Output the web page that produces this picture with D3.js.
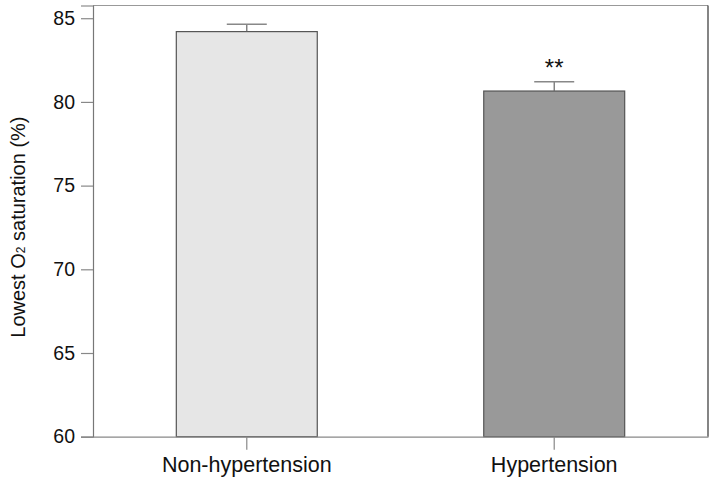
<!DOCTYPE html>
<html><head><meta charset="utf-8">
<script src="https://cdn.jsdelivr.net/npm/d3@7"></script>
<style>
body{margin:0;background:#fff;}
text{font-family:'Liberation Sans',Arial,sans-serif;fill:#111;}
</style></head><body>
<svg id="c" width="714" height="486"></svg>
<script>
const categories = ["Non-hypertension", "Hypertension"];
const means = [84.2, 80.65];
const errUpper = [84.64, 81.2];
const significance = ["", "**"];
const yTicks = [60, 65, 70, 75, 80, 85];
const fills = ["#e6e6e6", "#999999"];

const svg = d3.select("#c");
const L = 93, R = 708, T = 5.5, B = 436.7;
const y = d3.scaleLinear().domain([60, 85.76]).range([B, T]);
const x = d3.scaleBand().domain(categories).range([L, R]).paddingInner(0.5415).paddingOuter(0.271);

// bars
svg.selectAll("rect.bar").data(categories).join("rect")
  .attr("class","bar")
  .attr("x", d => x(d)).attr("width", x.bandwidth())
  .attr("y", (d,i) => y(means[i])).attr("height", (d,i) => y(60) - y(means[i]))
  .attr("fill", (d,i) => fills[i]).attr("stroke", "#555").attr("stroke-width", 1.2);

// error bars
categories.forEach((c,i) => {
  const cx = x(c) + x.bandwidth()/2;
  svg.append("line").attr("x1",cx).attr("x2",cx).attr("y1",y(means[i])).attr("y2",y(errUpper[i])).attr("stroke","#666").attr("stroke-width",1.2);
  svg.append("line").attr("x1",cx-20).attr("x2",cx+20).attr("y1",y(errUpper[i])).attr("y2",y(errUpper[i])).attr("stroke","#888").attr("stroke-width",1.5);
  if (significance[i]) {
    svg.append("text").attr("x",cx).attr("y",y(errUpper[i]) - 6).attr("text-anchor","middle")
      .attr("font-size",24).text(significance[i]);
  }
});

// frame
svg.append("line").attr("x1",L).attr("x2",R).attr("y1",T).attr("y2",T).attr("stroke","#999").attr("stroke-width",1.2);
svg.append("line").attr("x1",R).attr("x2",R).attr("y1",T).attr("y2",B).attr("stroke","#333").attr("stroke-width",1.2);

// axes
const yAxis = d3.axisLeft(y).tickValues(yTicks).tickSize(12).tickPadding(6);
const gy = svg.append("g").attr("transform",`translate(${L},0)`).call(yAxis);
gy.select(".domain").attr("stroke","#777").attr("stroke-width",1.2);
gy.selectAll(".tick line").attr("stroke","#888").attr("stroke-width",1.2);
gy.selectAll(".tick text").attr("font-size",19.5).attr("font-family",null).style("fill","#111");

const xAxis = d3.axisBottom(x).tickSize(13).tickPadding(7).tickSizeOuter(0);
const gx = svg.append("g").attr("transform",`translate(0,${B})`).call(xAxis);
gx.select(".domain").attr("stroke","#888").attr("stroke-width",1.2);
gx.selectAll(".tick line").attr("stroke","#888").attr("stroke-width",1.2);
gx.selectAll(".tick text").attr("font-size",21.5).attr("font-family",null).style("fill","#111");

// y label
const yl = svg.append("text").attr("transform",`translate(25,${(T+B)/2 + 6}) rotate(-90)`)
  .attr("text-anchor","middle").attr("font-size",20);
yl.append("tspan").text("Lowest O");
yl.append("tspan").attr("font-size",12).text("2");
yl.append("tspan").text(" saturation (%)");
</script></body></html>
